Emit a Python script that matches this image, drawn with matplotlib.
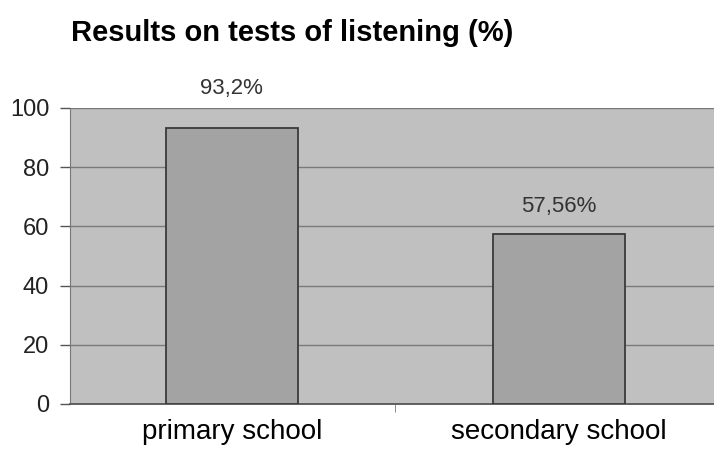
import numpy as np
import matplotlib.pyplot as plt

plt.rcParams['font.family'] = ['Liberation Sans', 'DejaVu Sans']

categories = ['primary school', 'secondary school']
results = [93.2, 57.56]
value_labels = ['93,2%', '57,56%']
yticks = [0, 20, 40, 60, 80, 100]

fig = plt.figure(figsize=(7.14, 4.57), dpi=100)
ax = fig.add_axes([0.098, 0.116, 0.902, 0.648])
ax.set_facecolor('#c0c0c0')

x = np.arange(len(categories))
ax.bar(x, results, width=0.405, color='#a3a3a3', edgecolor='#3a3a3a', linewidth=1.3, zorder=3)
for xi, v, lab in zip(x, results, value_labels):
    # labels that would hit the top line go just above the plot area
    ty = v + 5.5 if v < 90 else 103
    ax.text(xi, ty, lab, ha='center', va='bottom', fontsize=16,
            color='#333333', clip_on=False)

ax.set_xlim(-0.495, 1.474)
ax.set_ylim(0, 100)
ax.set_yticks(yticks)
ax.yaxis.grid(True, color='#7a7a7a', linewidth=1.0)
ax.set_axisbelow(True)
ax.tick_params(axis='y', length=7, width=1, color='#555555', labelsize=17, labelcolor='#222222', pad=8)

ax.set_xticks(x)
ax.set_xticklabels(categories)
ax.set_xticks([0.5], minor=True)
ax.tick_params(axis='x', which='major', length=0, labelsize=20, pad=11)
ax.tick_params(axis='x', which='minor', length=6, color='#777777')

for s in ['top', 'right']:
    ax.spines[s].set_visible(False)
ax.spines['left'].set_color('#777777')
ax.spines['bottom'].set_color('#555555')
ax.spines['bottom'].set_linewidth(1.3)

fig.text(0.1, 0.927, 'Results on tests of listening (%)', fontsize=21, fontweight='bold',
         ha='left', va='center')

fig.savefig('out.png', dpi=100)
